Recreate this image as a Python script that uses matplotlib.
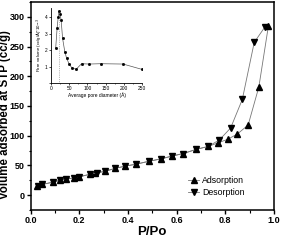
import numpy as np
import matplotlib
matplotlib.use("Agg")
import matplotlib.pyplot as plt
from matplotlib.ticker import MultipleLocator

plt.rcParams['font.family'] = ['Liberation Sans Narrow', 'Liberation Sans', 'DejaVu Sans']

# isotherm data
x_ads = [0.027, 0.048, 0.092, 0.119, 0.147, 0.177, 0.20, 0.243, 0.263, 0.305,
         0.346, 0.39, 0.432, 0.486, 0.535, 0.583, 0.627, 0.68, 0.73, 0.77,
         0.81, 0.85, 0.894, 0.938, 0.977]
y_ads = [16, 18, 22, 25, 27, 29, 31, 35, 37, 40,
         45, 49, 52, 57, 61, 66, 70, 77, 82, 88,
         94, 103, 118, 182, 284]

x_des = [0.963, 0.919, 0.87, 0.822, 0.776, 0.73, 0.68, 0.627, 0.583, 0.535,
         0.486, 0.432, 0.39, 0.346, 0.305, 0.275, 0.243, 0.20, 0.177, 0.147,
         0.119, 0.092, 0.048, 0.03]
y_des = [283, 257, 161, 113, 93, 82, 77, 70, 66, 61,
         57, 52, 49, 45, 40, 38, 35, 31, 29, 27,
         25, 22, 18, 15]

# pore size distribution (inset)
pore_d = [13, 17, 20, 22, 25, 28, 32, 38, 43, 50, 57, 69, 84, 105, 136, 198, 249]
pore_v = [2.1, 3.35, 4.0, 4.35, 4.2, 3.8, 2.7, 1.9, 1.5, 1.15, 0.93, 0.83,
          1.17, 1.15, 1.17, 1.15, 0.83]
peak_d = 23

fig = plt.figure(figsize=(2.83, 2.42), dpi=100)
ax = fig.add_axes([0.108, 0.132, 0.86, 0.86])

ax.plot(x_ads, y_ads, color="#777777", lw=0.6, marker="^", ms=3.7,
        mfc="black", mec="black", label="Adsorption")
ax.plot(x_des, y_des, color="#777777", lw=0.6, marker="v", ms=3.7,
        mfc="black", mec="black", label="Desorption")

ax.set_xlim(0, 1.0)
ax.set_ylim(-25, 325)
ax.xaxis.set_major_locator(MultipleLocator(0.2))
ax.xaxis.set_minor_locator(MultipleLocator(0.1))
ax.yaxis.set_major_locator(MultipleLocator(50))
ax.yaxis.set_minor_locator(MultipleLocator(25))
ax.set_yticks([0, 50, 100, 150, 200, 250, 300])
ax.tick_params(which="major", direction="out", length=3, width=1, labelsize=6.5, pad=1.2)
ax.tick_params(which="minor", direction="out", length=1.8, width=0.8)
for lab in ax.get_xticklabels() + ax.get_yticklabels():
    lab.set_fontweight("bold")
for s in ax.spines.values():
    s.set_linewidth(1.1)

ax.set_xlabel("P/Po", fontsize=9.5, fontweight="bold", labelpad=0.5)
ax.set_ylabel("Volume adsorbed at STP (cc/g)", fontsize=8.3, fontweight="bold",
              family=["Liberation Sans", "DejaVu Sans"])
ax.yaxis.set_label_coords(-0.08, 0.46)

ax.legend(loc="center left", bbox_to_anchor=(0.664, 0.229),
          bbox_transform=fig.transFigure, frameon=False, fontsize=6.3,
          borderpad=0, borderaxespad=0, handlelength=1.3, handletextpad=0.3,
          labelspacing=0.25)

# inset
ins = fig.add_axes([0.180, 0.657, 0.322, 0.31])
ins.plot(pore_d, pore_v, color="#555555", lw=0.5, marker="s", ms=1.0,
         mfc="black", mec="black")
ins.plot([peak_d, peak_d], [0, 4.3], color="#777777", lw=0.5, ls=":")
ins.set_xlim(0, 250)
ins.set_ylim(0, 4.55)
ins.set_xticks([0, 50, 100, 150, 200, 250])
ins.xaxis.set_minor_locator(MultipleLocator(25))
ins.set_yticks([0, 1, 2, 3, 4])
ins.set_yticklabels(["", "1", "2", "3", "4"])
ins.spines["top"].set_visible(False)
ins.spines["right"].set_visible(False)
for s in ["left", "bottom"]:
    ins.spines[s].set_linewidth(0.6)
ins.tick_params(which="major", direction="out", length=1.5, width=0.5, labelsize=3.5, pad=0.8)
ins.tick_params(which="minor", direction="out", length=0.8, width=0.4)
ins.set_xlabel("Average pore diameter (\u00c5)", fontsize=3.5, labelpad=0.5)
ins.set_ylabel("Pore volume (cc/g/\u00c5)*10$^{-3}$", fontsize=3.2, labelpad=0.8)

fig.savefig("out.png", dpi=100)
